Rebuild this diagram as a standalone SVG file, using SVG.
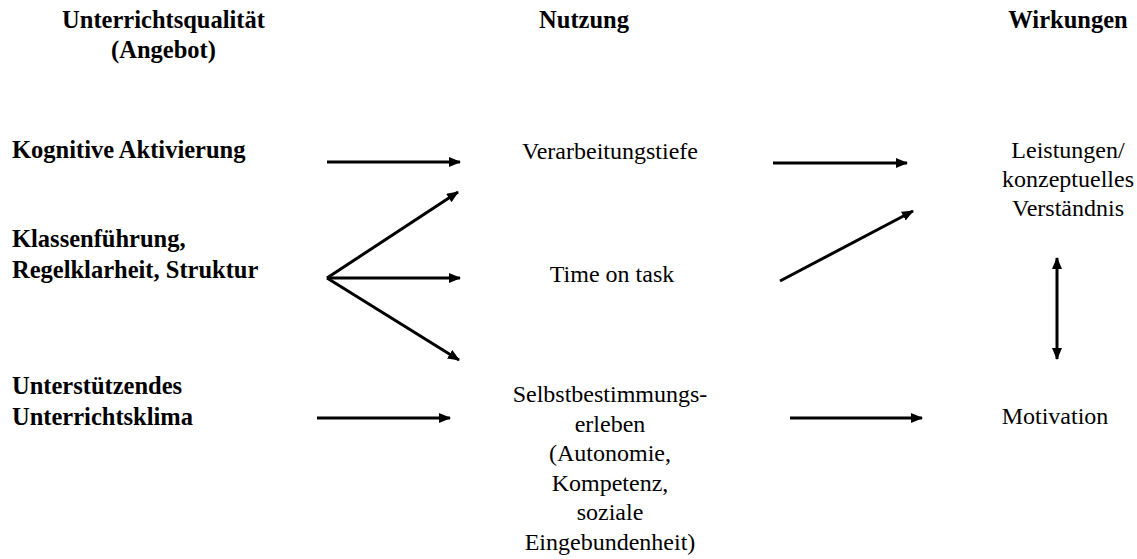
<svg xmlns="http://www.w3.org/2000/svg" width="1137" height="559" viewBox="0 0 1137 559">
  <style>
    text { font-family: "Liberation Serif", "DejaVu Serif", "Noto Serif", Tinos, serif; font-size: 24px; fill: #000; }
    .b { font-weight: bold; font-size: 24.5px; }
    .c { text-anchor: middle; }
    .ln { stroke: #000; stroke-width: 3; fill: none; }
  </style>
  <defs>
    <marker id="ah" viewBox="0 0 12 10" refX="11" refY="5" markerWidth="12" markerHeight="10" markerUnits="userSpaceOnUse" orient="auto-start-reverse">
      <path d="M0,0 L12,5 L0,10 Z" fill="#000"/>
    </marker>
  </defs>
  <rect width="1137" height="559" fill="#fff"/>

  <!-- column headings -->
  <g id="head-angebot">
    <text class="b c" x="163.5" y="28">Unterrichtsqualität</text>
    <text class="b c" x="163.5" y="58">(Angebot)</text>
  </g>
  <g id="head-nutzung"><text class="b c" x="584" y="28">Nutzung</text></g>
  <g id="head-wirkungen"><text class="b c" x="1068" y="28">Wirkungen</text></g>

  <!-- left column -->
  <g id="kognitiv"><text class="b" x="12" y="158">Kognitive Aktivierung</text></g>
  <g id="klassenfuehrung">
    <text class="b" x="12" y="247">Klassenführung,</text>
    <text class="b" x="12" y="278">Regelklarheit, Struktur</text>
  </g>
  <g id="klima">
    <text class="b" x="12" y="394">Unterstützendes</text>
    <text class="b" x="12" y="425">Unterrichtsklima</text>
  </g>

  <!-- middle column -->
  <g id="verarbeitung"><text class="c" x="610" y="159">Verarbeitungstiefe</text></g>
  <g id="timeontask"><text class="c" x="612" y="282">Time on task</text></g>
  <g id="selbstbestimmung">
    <text class="c" x="610" y="402">Selbstbestimmungs-</text>
    <text class="c" x="610" y="431.5">erleben</text>
    <text class="c" x="610" y="461">(Autonomie,</text>
    <text class="c" x="610" y="490.5">Kompetenz,</text>
    <text class="c" x="610" y="520">soziale</text>
    <text class="c" x="610" y="549.5">Eingebundenheit)</text>
  </g>

  <!-- right column -->
  <g id="leistungen">
    <text class="c" x="1068" y="158">Leistungen/</text>
    <text class="c" x="1068" y="187">konzeptuelles</text>
    <text class="c" x="1068" y="216">Verständnis</text>
  </g>
  <g id="motivation"><text class="c" x="1055" y="424">Motivation</text></g>

  <!-- connectors -->
  <g id="connectors" class="ln" marker-end="url(#ah)">
    <line x1="327" y1="162" x2="460" y2="162"/>
    <line x1="327" y1="278" x2="458" y2="192"/>
    <line x1="327" y1="278" x2="460" y2="278"/>
    <line x1="327" y1="278" x2="459" y2="360"/>
    <line x1="317" y1="418" x2="450" y2="418"/>
    <line x1="773" y1="163" x2="907" y2="163"/>
    <line x1="780" y1="281" x2="913" y2="211"/>
    <line x1="790" y1="418" x2="922" y2="418"/>
    <line x1="1057" y1="258" x2="1057" y2="359" marker-start="url(#ah)"/>
  </g>
</svg>
